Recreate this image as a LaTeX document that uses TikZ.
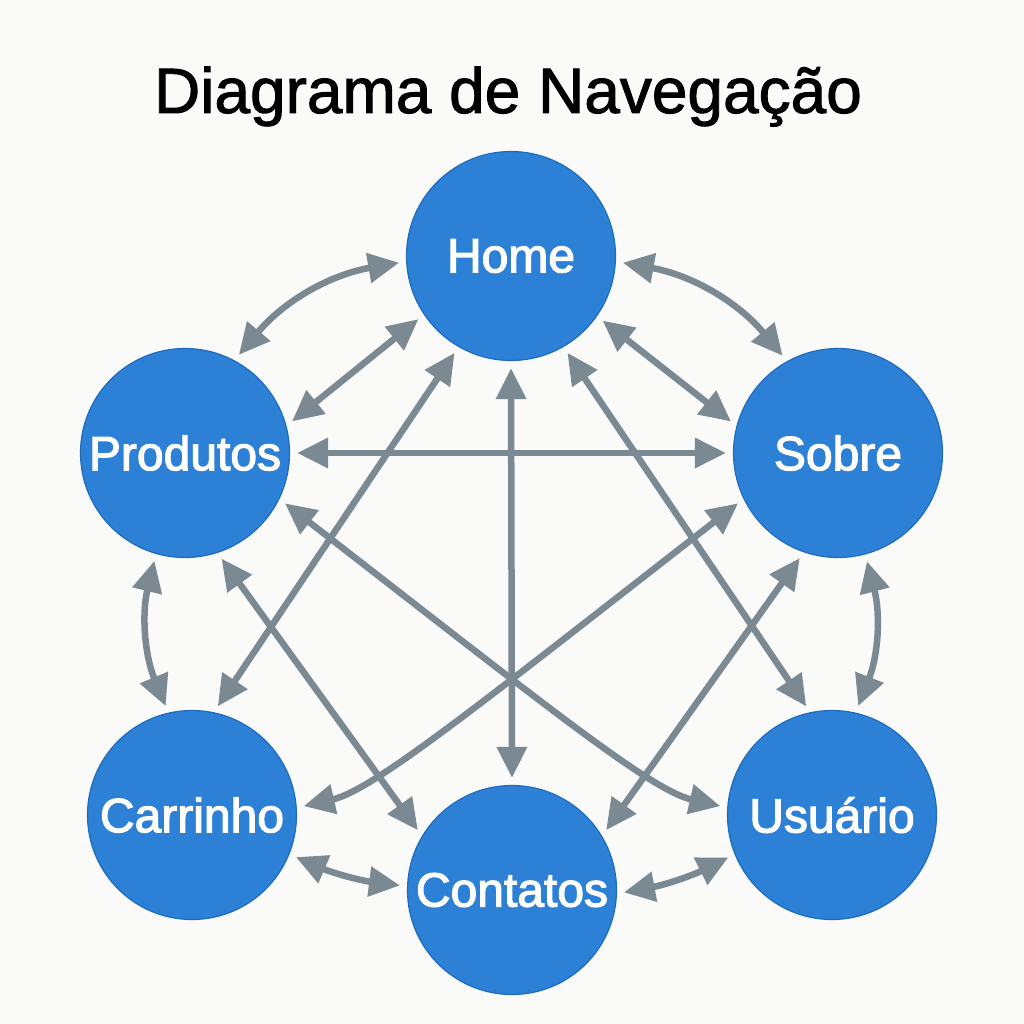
\documentclass[tikz,border=0pt]{standalone}
\usepackage{fontspec}
\setmainfont{Liberation Sans}
\newfontfamily\nodefont[FakeBold=2.5]{Liberation Sans}
\newfontfamily\titlefont[FakeBold=1.5]{Liberation Sans}
\usetikzlibrary{arrows.meta}
\definecolor{bgc}{HTML}{FAFAF8}
\definecolor{nodeblue}{HTML}{2C80D6}
\definecolor{nodeedge}{HTML}{1F6CBE}
\definecolor{arrowgray}{HTML}{7B8A92}
\tikzset{
  pagenode/.style={circle, fill=nodeblue, draw=nodeedge, line width=1.2pt,
    minimum size=209pt, inner sep=0pt, text=white,
    font=\nodefont\fontsize{48}{52}\selectfont},
  conn/.style={draw=arrowgray, line width=6.5pt,
    {Triangle[length=31pt,width=29pt]}-{Triangle[length=31pt,width=29pt]},
    shorten <=7pt, shorten >=7pt},
}
\begin{document}
\begin{tikzpicture}[x=1pt,y=-1pt]
\fill[bgc] (0,0) rectangle (1024,1024);
\useasboundingbox (0,0) rectangle (1024,1024);

\node[anchor=base, font=\titlefont\fontsize{64}{70}\selectfont] (title) at (508,113) {Diagrama de Navegação};

\node[pagenode] (home) at (511,256) {Home};
\node[pagenode] (produtos) at (185,453) {Produtos};
\node[pagenode] (sobre) at (838,453) {Sobre};
\node[pagenode] (carrinho) at (192,815) {Carrinho};
\node[pagenode] (contatos) at (512,890) {Contatos};
\node[pagenode] (usuario) at (832,815) {Usuário};

% Home - Produtos
\draw[conn] (home.183) to[bend right=20] (produtos.62);
\draw[conn] (home.214) -- (produtos.15);
% Home - Sobre
\draw[conn] (home.-3) to[bend left=20] (sobre.119);
\draw[conn] (home.-35) -- (sobre.165);
% Produtos - Sobre
\draw[conn] (produtos.0) -- (sobre.180);
% Home - Contatos
\draw[conn] (home.270) -- (contatos.90);
% Home - Carrinho / Usuario
\draw[conn] (home.240) -- (carrinho.78);
\draw[conn] (home.-60) -- (usuario.102);
% Produtos / Sobre - Contatos
\draw[conn] (produtos.-72) -- (contatos.149);
\draw[conn] (sobre.-109) -- (contatos.31);
% Produtos - Usuario, Sobre - Carrinho
\draw[conn] (produtos.-26) .. controls (540,701) and (650,790) .. (usuario.176);
\draw[conn] (sobre.206) .. controls (484,701) and (374,790) .. (carrinho.4);
% side arcs
\draw[conn] (produtos.-106) to[bend right=18] (carrinho.103);
\draw[conn] (sobre.-75) to[bend left=18] (usuario.77);
% bottom
\draw[conn] (carrinho.-22) to[bend right=8] (contatos.178);
\draw[conn] (contatos.-2) to[bend right=8] (usuario.202);
\end{tikzpicture}
\end{document}
